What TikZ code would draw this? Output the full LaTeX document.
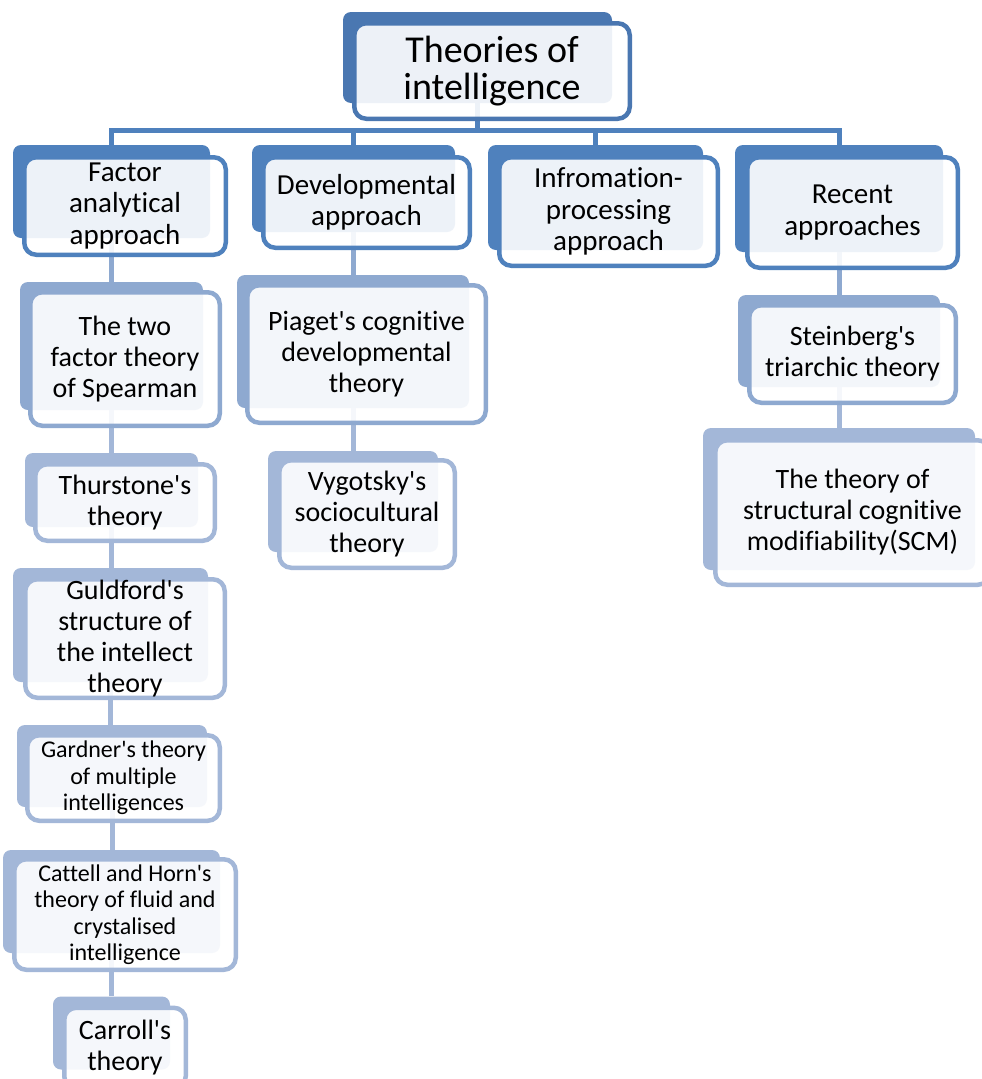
\documentclass[tikz,border=0pt]{standalone}
\usepackage{fontspec}
\setmainfont{Carlito}[Ligatures={TeXOff,NoCommon}]

\definecolor{topblue}{RGB}{74,119,177}
\definecolor{midblue}{RGB}{79,129,189}
\definecolor{subblue}{RGB}{142,169,208}
\definecolor{leafblue}{RGB}{163,183,216}

\begin{document}
\begin{tikzpicture}[x=1pt, y=-1pt,
        backbox/.style={rounded corners=8pt, inner sep=0pt, fill=#1},
        frontbox/.style={draw=#1, line width=4.5pt, rounded corners=12pt, fill=white, fill opacity=0.9, text opacity=1, align=center, inner sep=0pt},
        link/.style={line width=5pt, draw=#1},
        textbig/.style={font=\fontsize{38}{37}\selectfont},
        texthead/.style={font=\fontsize{29}{31.5}\selectfont},
        textnorm/.style={font=\fontsize{28}{31}\selectfont},
        textsmall/.style={font=\fontsize{24}{26.5}\selectfont}]
        %\draw[step=100,gray,very thin] (0,0) grid (982,1079);

        \useasboundingbox (0,0) rectangle (982,1079);
        \fill[white] (0,0) rectangle (982,1079);

        % back boxes
        \node[backbox=topblue, minimum width=269pt, minimum height=91pt] (topB) at (477.5,57.5) {};

        \node[backbox=midblue, minimum width=197pt, minimum height=93pt] (facB) at (111.5,191.5) {};
        \node[backbox=midblue, minimum width=203pt, minimum height=87pt] (devB) at (353.5,188.5) {};
        \node[backbox=midblue, minimum width=215pt, minimum height=105pt] (infB) at (595.5,197.5) {};
        \node[backbox=midblue, minimum width=208pt, minimum height=107pt] (recB) at (839,198.5) {};

        \node[backbox=subblue, minimum width=183pt, minimum height=128pt] (twoB) at (111.5,346) {};
        \node[backbox=subblue, minimum width=232pt, minimum height=133pt] (piaB) at (353,341.5) {};
        \node[backbox=subblue, minimum width=202pt, minimum height=92pt] (steB) at (839,341) {};

        \node[backbox=leafblue, minimum width=173pt, minimum height=74pt] (thuB) at (111.5,490) {};
        \node[backbox=leafblue, minimum width=195pt, minimum height=114pt] (gulB) at (110.5,625) {};
        \node[backbox=leafblue, minimum width=190pt, minimum height=82pt] (garB) at (112,766) {};
        \node[backbox=leafblue, minimum width=217pt, minimum height=103pt] (catB) at (111.5,901.5) {};
        \node[backbox=leafblue, minimum width=117pt, minimum height=73pt] (carB) at (111.5,1033) {};
        \node[backbox=leafblue, minimum width=170pt, minimum height=101pt] (vygB) at (353,501.5) {};
        \node[backbox=leafblue, minimum width=272pt, minimum height=142pt] (scmB) at (839,499) {};

        % connectors
        \draw[link=midblue] (topB.south) -- ++(0,27) coordinate (bar);
        \draw[link=midblue] (bar) -| (facB.north);
        \draw[link=midblue] (bar) -| (devB.north);
        \draw[link=midblue] (bar) -| (infB.north);
        \draw[link=midblue] (bar) -| (recB.north);

        \draw[link=subblue] (facB.south) -- (facB.south |- twoB.north);
        \draw[link=subblue] (devB.south) -- (devB.south |- piaB.north);
        \draw[link=subblue] (recB.south) -- (recB.south |- steB.north);

        \draw[link=leafblue] (twoB.south) -- (twoB.south |- thuB.north);
        \draw[link=leafblue] (thuB.south) -- (thuB.south |- gulB.north);
        \draw[link=leafblue] (gulB.south) -- (gulB.south |- garB.north);
        \draw[link=leafblue] (garB.south) -- (garB.south |- catB.north);
        \draw[link=leafblue] (catB.south) -- (catB.south |- carB.north);
        \draw[link=leafblue] (piaB.south) -- (piaB.south |- vygB.north);
        \draw[link=leafblue] (steB.south) -- (steB.south |- scmB.north);

        % front boxes with the texts
        \node[frontbox=topblue, textbig, minimum width=275.5pt, minimum height=95.5pt] (top) at (492,71) {Theories of\\intelligence};

        \node[frontbox=midblue, texthead, minimum width=201.5pt, minimum height=97.5pt] (fac) at (125,206) {Factor\\analytical\\approach};
        \node[frontbox=midblue, texthead, minimum width=206.5pt, minimum height=90.5pt] (dev) at (366.5,202.5) {Developmental\\approach};
        \node[frontbox=midblue, texthead, minimum width=218.5pt, minimum height=108.5pt] (inf) at (608.5,211.5) {Infromation-\\processing\\approach};
        \node[frontbox=midblue, texthead, minimum width=210.5pt, minimum height=110.5pt] (rec) at (852.5,212.5) {Recent\\approaches};

        \node[frontbox=subblue, textnorm, minimum width=189.5pt, minimum height=133.5pt] (two) at (125,359) {The two\\factor theory\\of Spearman};
        \node[frontbox=subblue, textnorm, minimum width=238.5pt, minimum height=137.5pt] (pia) at (366.5,354) {Piaget's cognitive\\developmental\\theory};
        \node[frontbox=subblue, textnorm, minimum width=206.5pt, minimum height=97.5pt] (ste) at (852.5,354) {Steinberg's\\triarchic theory};

        \node[frontbox=leafblue, textnorm, minimum width=179.5pt, minimum height=76.5pt] (thu) at (125,502.5) {Thurstone's\\theory};
        \node[frontbox=leafblue, textnorm, minimum width=199.5pt, minimum height=118.5pt] (gul) at (125,638.5) {Guldford's\\structure of\\the intellect\\theory};
        \node[frontbox=leafblue, textsmall, minimum width=192.5pt, minimum height=85.5pt] (gar) at (123.5,778) {Gardner's theory\\of multiple\\intelligences};
        \node[frontbox=leafblue, textsmall, minimum width=221.5pt, minimum height=110.5pt] (cat) at (125,914.5) {Cattell and Horn's\\theory of fluid and\\crystalised\\intelligence};
        \node[frontbox=leafblue, textnorm, minimum width=121.5pt, minimum height=80.5pt] (car) at (125,1048) {Carroll's\\theory};
        \node[frontbox=leafblue, textnorm, minimum width=175.5pt, minimum height=107.5pt] (vyg) at (367,514) {Vygotsky's\\sociocultural\\theory};
        \node[frontbox=leafblue, textnorm, minimum width=274.5pt, minimum height=144.5pt] (scm) at (852.5,512.5) {The theory of\\structural cognitive\\modifiability(SCM)};
\end{tikzpicture}
\end{document}
